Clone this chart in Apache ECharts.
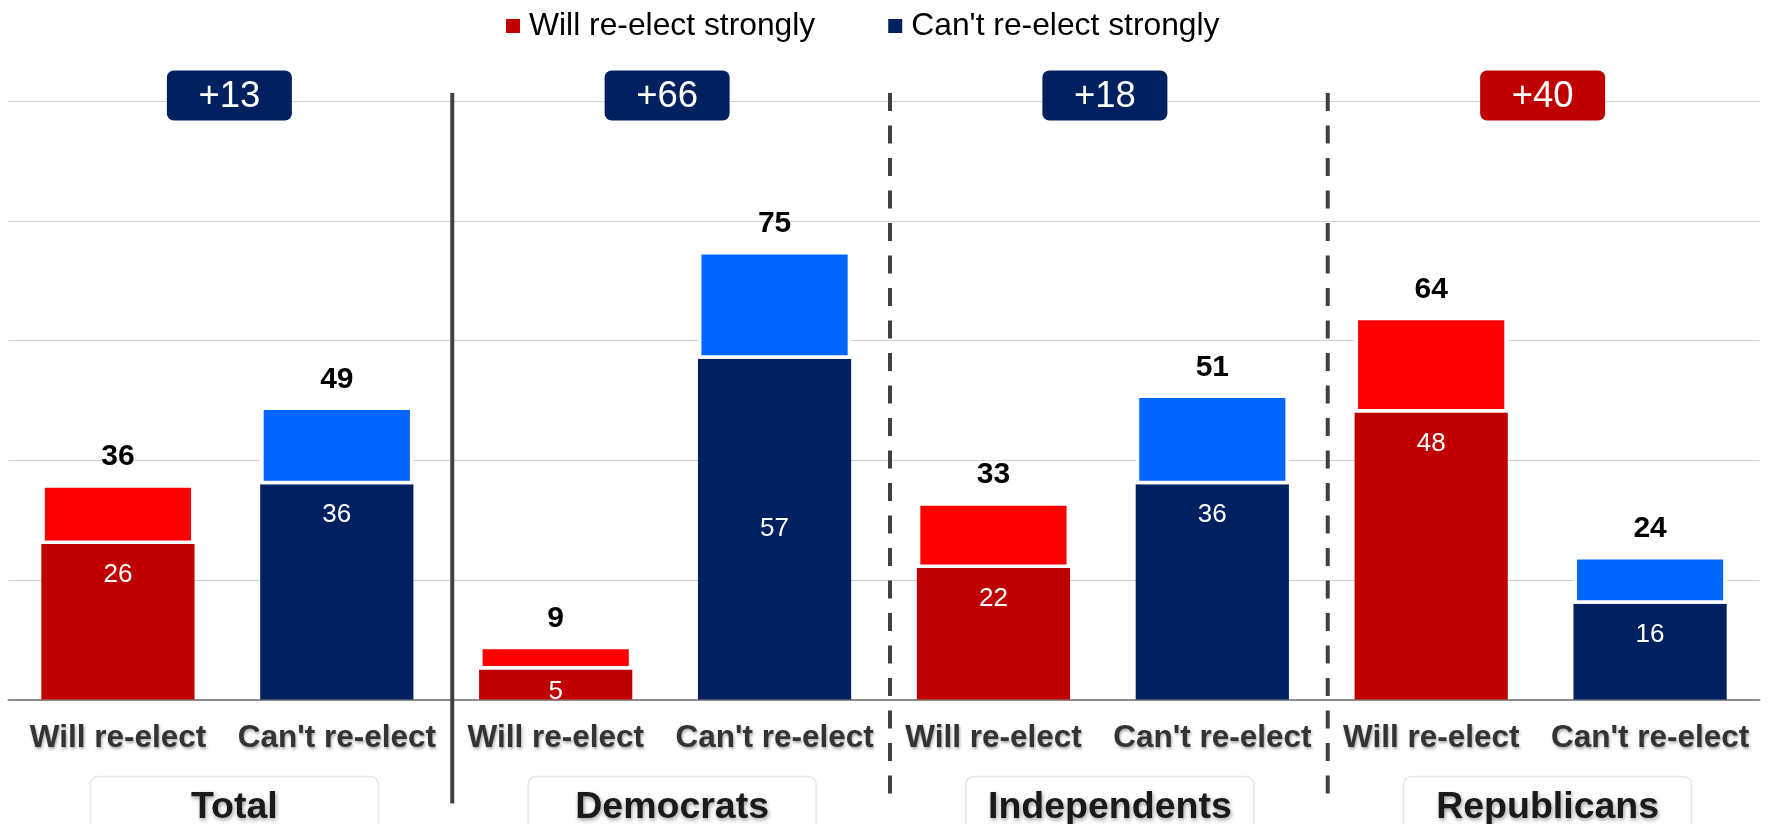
<!DOCTYPE html>
<html><head><meta charset="utf-8">
<script src="https://cdn.jsdelivr.net/npm/echarts@6/dist/echarts.min.js"></script>
<style>html,body{margin:0;padding:0;background:#fff}#c{width:1769px;height:824px}</style>
</head><body><div id="c"></div>
<script>
// ---- data ----
const groups = ['Total', 'Democrats', 'Independents', 'Republicans'];
const barLabels = ['Will re-elect', "Can't re-elect"];
const willTotal = [36, 9, 33, 64];
const willStrong = [26, 5, 22, 48];
const cantTotal = [49, 75, 51, 24];
const cantStrong = [36, 57, 36, 16];
const yTicks = [0, 20, 40, 60, 80, 100];

// ---- derived ----
const categories = [];
const willStrongS = [], willSoftS = [], cantStrongS = [], cantSoftS = [], totals = [];
// tall strong segments carry their label in the middle, short ones closer to the top
const strongItem = v => v > 50 ? { value: v, label: { position: 'inside' } }
  : (v < 10 ? { value: v, label: { distance: 9 } } : v);
groups.forEach((g, i) => {
  categories.push(barLabels[0]);
  willStrongS.push(strongItem(willStrong[i])); willSoftS.push(willTotal[i] - willStrong[i]);
  cantStrongS.push('-'); cantSoftS.push('-'); totals.push(willTotal[i]);
  categories.push(barLabels[1]);
  willStrongS.push('-'); willSoftS.push('-');
  cantStrongS.push(strongItem(cantStrong[i])); cantSoftS.push(cantTotal[i] - cantStrong[i]); totals.push(cantTotal[i]);
});

const C = { darkRed: '#C00000', red: '#FF0000', navy: '#002060', blue: '#0066FF' };
const FONT = 'Liberation Sans, Arial, sans-serif';

const chart = echarts.init(document.getElementById('c'), null, { renderer: 'canvas' });

const strongLabel = {
  show: true, position: 'insideTop', distance: 18, color: '#fff',
  fontSize: 26, fontFamily: FONT, fontWeight: 'normal'
};
const totalLabel = {
  show: true, position: 'top', distance: 12, color: '#000',
  fontSize: 30, fontFamily: FONT, fontWeight: 'bold',
  formatter: p => totals[p.dataIndex]
};

chart.setOption({
  animation: false,
  backgroundColor: '#fff',
  textStyle: { fontFamily: FONT },
  legend: {
    data: ['Will re-elect strongly', "Can't re-elect strongly"],
    left: 501, top: 5,
    icon: 'rect', itemWidth: 14, itemHeight: 14, itemGap: 73,
    textStyle: { fontSize: 31.8, color: '#000', fontFamily: FONT, padding: [0, 0, 0, 4] }
  },
  grid: { left: 8.5, right: 9.5, top: 101.5, bottom: 124.5, containLabel: false },
  xAxis: {
    type: 'category',
    data: categories,
    axisTick: { show: false },
    axisLine: { lineStyle: { color: '#8c8c8c', width: 2 } },
    axisLabel: {
      interval: 0, margin: 23, fontSize: 31.5, fontWeight: 'bold', color: '#333',
      fontFamily: FONT,
      textShadowColor: 'rgba(0,0,0,0.35)', textShadowBlur: 3,
      textShadowOffsetX: 1, textShadowOffsetY: 2
    }
  },
  yAxis: {
    type: 'value', min: yTicks[0], max: yTicks[yTicks.length - 1],
    interval: yTicks[1] - yTicks[0],
    axisLabel: { show: false }, axisLine: { show: false }, axisTick: { show: false },
    splitLine: { lineStyle: { color: '#d0d0d0', type: 'solid', width: 1 } }
  },
  series: [
    { name: 'Will re-elect strongly', type: 'bar', stack: 'a', barWidth: '70%',
      data: willStrongS, itemStyle: { color: C.darkRed }, label: strongLabel },
    { name: "Can't re-elect strongly", type: 'bar', stack: 'a', barWidth: '70%',
      data: cantStrongS, itemStyle: { color: C.navy }, label: strongLabel },
    { name: 'Will re-elect (other)', type: 'bar', stack: 'a', barWidth: '70%',
      data: willSoftS, itemStyle: { color: C.red, borderColor: '#fff', borderWidth: 3.5 },
      label: totalLabel },
    { name: "Can't re-elect (other)", type: 'bar', stack: 'a', barWidth: '70%',
      data: cantSoftS, itemStyle: { color: C.blue, borderColor: '#fff', borderWidth: 3.5 },
      label: totalLabel }
  ]
});

// ---- decorations positioned from the axes ----
const px = i => chart.convertToPixel({ xAxisIndex: 0 }, i);
const yTop = chart.convertToPixel({ yAxisIndex: 0 }, yTicks[yTicks.length - 1]);
const yBase = chart.convertToPixel({ yAxisIndex: 0 }, 0);
const graphics = [];

// separators
for (let k = 1; k < groups.length; k++) {
  const x = (px(2 * k - 1) + px(2 * k)) / 2 + 6;
  const solid = k === 1;
  graphics.push({
    type: 'line', silent: true, z: 10,
    shape: { x1: x, y1: yTop - 8.5, x2: x, y2: yBase + (solid ? 104 : 98) },
    style: { stroke: '#404040', lineWidth: 4, lineDash: solid ? null : [18, 14.5] }
  });
}

groups.forEach((g, i) => {
  const mid = (px(2 * i) + px(2 * i + 1)) / 2;
  // net badge
  const diff = cantTotal[i] - willTotal[i];
  const bw = 125, bh = 50;
  const bx = mid + 2, by = yTop - 6;
  graphics.push({
    type: 'rect', z: 20,
    shape: { x: bx - bw / 2, y: by - bh / 2, width: bw, height: bh, r: 7 },
    style: { fill: diff >= 0 ? C.navy : C.darkRed }
  });
  graphics.push({
    type: 'text', z: 21,
    style: { x: bx, y: by + 1, text: '+' + Math.abs(diff), fill: '#fff',
      font: 'normal 36.5px ' + FONT, align: 'center', verticalAlign: 'middle' }
  });
  // group label box
  const gw = 288, gh = 56;
  const gx = mid + 7, gy = yBase + 77;
  graphics.push({
    type: 'rect', z: 20,
    shape: { x: gx - gw / 2, y: gy, width: gw, height: gh, r: 8 },
    style: { fill: '#fff', stroke: '#e6e6e6', lineWidth: 1.5 }
  });
  graphics.push({
    type: 'text', z: 21,
    style: {
      x: gx, y: gy + 31, text: g, fill: '#1a1a1a', font: 'bold 37.5px ' + FONT,
      align: 'center', verticalAlign: 'middle',
      textShadowColor: 'rgba(0,0,0,0.4)', textShadowBlur: 4, textShadowOffsetX: 1, textShadowOffsetY: 2
    }
  });
});

chart.setOption({ graphic: graphics });
</script>
</body></html>
